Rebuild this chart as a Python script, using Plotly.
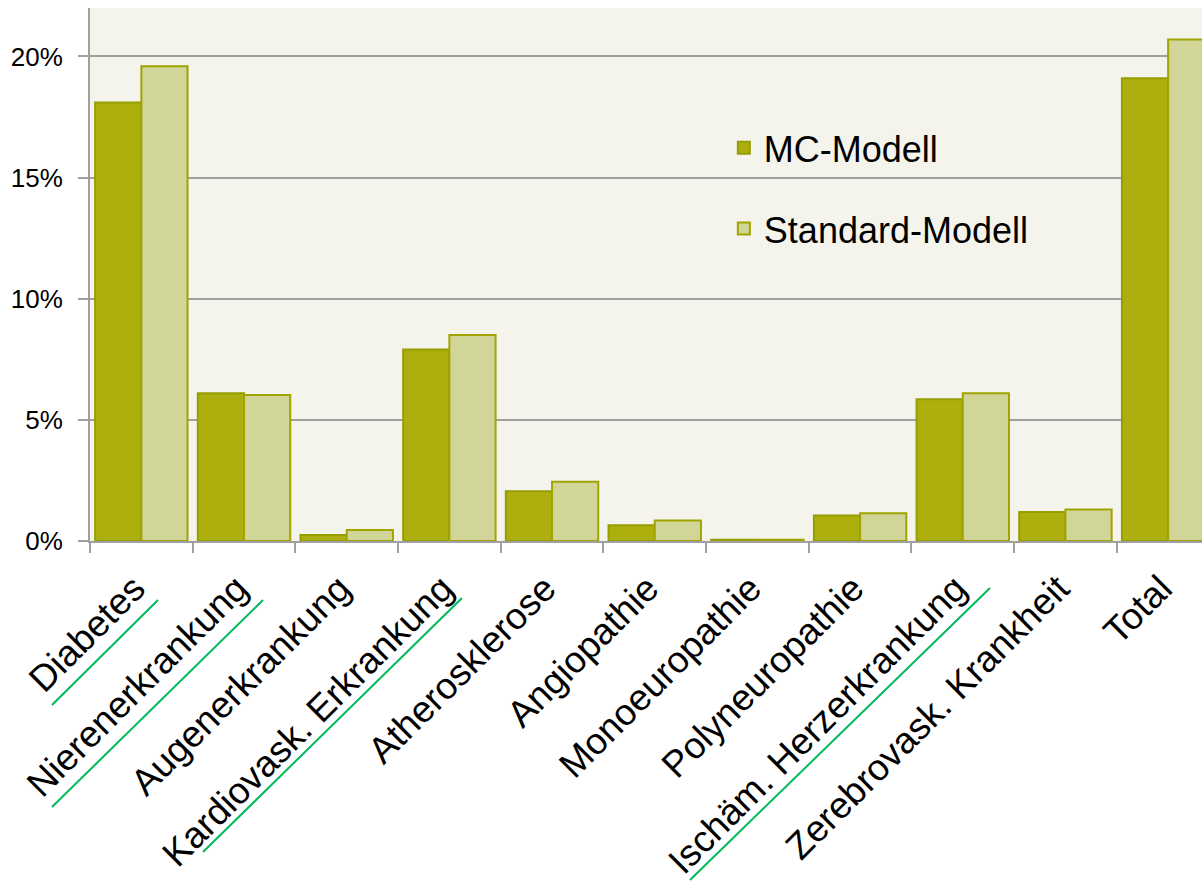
import plotly.graph_objects as go

categories = ["Diabetes", "Nierenerkrankung", "Augenerkrankung", "Kardiovask. Erkrankung",
              "Atherosklerose", "Angiopathie", "Monoeuropathie", "Polyneuropathie",
              "Ischäm. Herzerkrankung", "Zerebrovask. Krankheit", "Total"]
mc_modell = [18.1, 6.1, 0.25, 7.9, 2.05, 0.65, 0.05, 1.05, 5.85, 1.2, 19.1]
standard_modell = [19.6, 6.03, 0.45, 8.5, 2.45, 0.85, 0.05, 1.15, 6.1, 1.3, 20.7]
y_ticks = [0, 5, 10, 15, 20]
y_tick_labels = ["0%", "5%", "10%", "15%", "20%"]

W, H = 1202, 882
ML, MR, MT, MB = 90, 0, 8, 341

fig = go.Figure()
fig.add_trace(go.Bar(x=categories, y=mc_modell, name="MC-Modell", legendgroup="a",
                     marker=dict(color="rgb(173,175,14)", line=dict(color="rgb(150,158,0)", width=2))))
fig.add_trace(go.Bar(x=categories, y=standard_modell, name="Standard-Modell", legendgroup="b",
                     marker=dict(color="rgb(209,213,152)", line=dict(color="rgb(160,163,0)", width=2))))

def px2paper(px, py):
    return (px - ML) / (W - ML - MR), (H - MB - py) / (H - MT - MB)

underlines = [((52, 705), (158, 600)), ((52, 807), (263, 600)),
              ((203, 852), (462, 598)), ((690, 880), (990, 588))]
shapes = []
for (a, b) in underlines:
    x0, y0 = px2paper(*a)
    x1, y1 = px2paper(*b)
    shapes.append(dict(type="line", xref="paper", yref="paper", x0=x0, y0=y0, x1=x1, y1=y1,
                       line=dict(color="rgb(0,185,90)", width=2)))

fig.update_layout(
    width=W, height=H,
    margin=dict(l=ML, r=MR, t=MT, b=MB, autoexpand=False),
    paper_bgcolor="white", plot_bgcolor="rgb(244,244,236)",
    barmode="group", bargap=0.1, bargroupgap=0,
    font=dict(family="Arial, Liberation Sans, sans-serif", color="black"),
    legend=dict(x=0.57, y=0.794, xanchor="left", yanchor="top", bgcolor="rgba(0,0,0,0)",
                font=dict(size=36), tracegroupgap=31),
    shapes=shapes,
    xaxis=dict(range=[-0.5, 10.33], tickangle=-45, tickfont=dict(size=37), automargin=False,
               showline=True, linecolor="rgb(160,160,160)", linewidth=2,
               ticks="outside", tickson="boundaries", ticklen=10, tickwidth=2,
               tickcolor="rgb(160,160,160)", showgrid=False, ticklabelstandoff=9,
               ticklabelshift=-7),
    yaxis=dict(range=[0, 22], tickmode="array", tickvals=y_ticks, ticktext=y_tick_labels,
               tickfont=dict(size=26), ticklabelstandoff=10, automargin=False,
               showline=True, linecolor="rgb(160,160,160)", linewidth=2,
               ticks="outside", ticklen=10, tickwidth=2, tickcolor="rgb(160,160,160)",
               showgrid=True, gridcolor="rgb(160,160,160)", gridwidth=2, zeroline=False),
)

fig.write_html("out.html")
